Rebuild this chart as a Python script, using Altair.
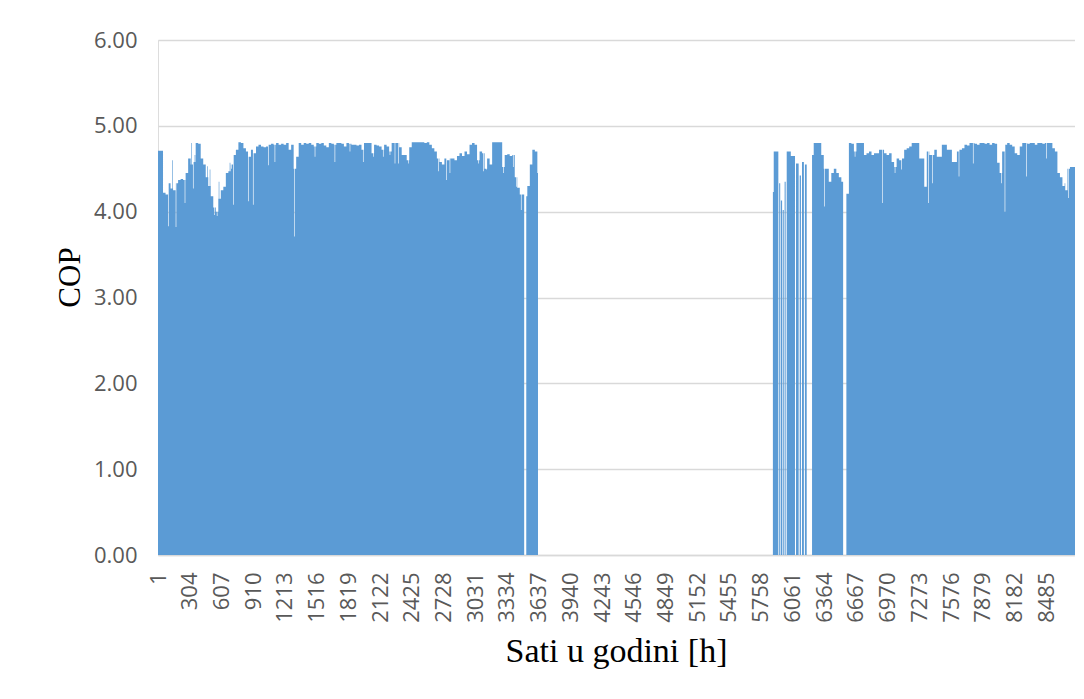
import altair as alt
import numpy as np
import pandas as pd

# Daily envelope of hourly COP (365 days, 0 = heat pump off)
day_cop = [
    4.71, 4.71, 4.22, 4.20, 4.33, 4.27, 4.25, 4.33, 4.37, 4.38,
    4.37, 4.45, 4.62, 4.55, 4.58, 4.80, 4.79, 4.62, 4.55, 4.40,
    4.30, 4.18, 4.05, 4.00, 4.15, 4.25, 4.29, 4.45, 4.47, 4.55,
    4.66, 4.72, 4.81, 4.80, 4.74, 4.70, 4.64, 4.72, 4.68, 4.76,
    4.78, 4.76, 4.75, 4.76, 4.78, 4.79, 4.78, 4.80, 4.78, 4.79,
    4.78, 4.80, 4.72, 4.78, 4.50, 4.64, 4.80, 4.78, 4.80, 4.79,
    4.80, 4.78, 4.76, 4.80, 4.79, 4.80, 4.77, 4.75, 4.80, 4.79,
    4.78, 4.80, 4.80, 4.79, 4.76, 4.80, 4.79, 4.78, 4.78, 4.77,
    4.78, 4.72, 4.80, 4.80, 4.80, 4.68, 4.78, 4.77, 4.76, 4.72,
    4.78, 4.76, 4.70, 4.80, 4.80, 4.80, 4.75, 4.66, 4.66, 4.60,
    4.75, 4.81, 4.81, 4.81, 4.81, 4.81, 4.80, 4.81, 4.78, 4.74,
    4.70, 4.62, 4.58, 4.55, 4.62, 4.60, 4.62, 4.62, 4.60, 4.65,
    4.68, 4.65, 4.70, 4.67, 4.78, 4.80, 4.78, 4.60, 4.70, 4.68,
    4.50, 4.62, 4.55, 4.81, 4.81, 4.81, 4.81, 4.52, 4.66, 4.67,
    4.65, 4.66, 4.40, 4.28, 4.20, 4.20, 4.18, 4.30, 4.55, 4.72,
    4.70, 4.45, 0, 0, 0, 0, 0, 0, 0, 0,
    0, 0, 0, 0, 0, 0, 0, 0, 0, 0,
    0, 0, 0, 0, 0, 0, 0, 0, 0, 0,
    0, 0, 0, 0, 0, 0, 0, 0, 0, 0,
    0, 0, 0, 0, 0, 0, 0, 0, 0, 0,
    0, 0, 0, 0, 0, 0, 0, 0, 0, 0,
    0, 0, 0, 0, 0, 0, 0, 0, 0, 0,
    0, 0, 0, 0, 0, 0, 0, 0, 0, 0,
    0, 0, 0, 0, 0, 0, 0, 0, 0, 0,
    0, 0, 0, 0, 0, 0, 0, 0, 0, 0,
    0, 0, 0, 0, 0, 0, 0, 0, 0, 0,
    4.66, 4.80, 4.80, 4.80, 4.66, 4.50, 4.50, 4.35, 4.45, 4.50,
    4.45, 4.40, 4.35, 0, 4.21, 4.80, 4.79, 4.70, 4.80, 4.80,
    4.80, 4.66, 4.68, 4.70, 4.66, 4.68, 4.68, 4.72, 4.72, 4.68,
    4.66, 4.68, 4.58, 4.52, 4.62, 4.60, 4.62, 4.72, 4.74, 4.76,
    4.80, 4.80, 4.80, 4.62, 4.62, 4.29, 4.70, 4.66, 4.66, 4.72,
    4.64, 4.64, 4.78, 4.78, 4.72, 4.72, 4.58, 4.58, 4.70, 4.72,
    4.74, 4.78, 4.77, 4.80, 4.80, 4.79, 4.78, 4.80, 4.80, 4.79,
    4.80, 4.78, 4.80, 4.79, 4.57, 4.45, 4.70, 4.78, 4.80, 4.78,
    4.76, 4.68, 4.66, 4.76, 4.80, 4.80, 4.79, 4.80, 4.80, 4.78,
    4.80, 4.80, 4.79, 4.80, 4.80, 4.80, 4.74, 4.70, 4.45, 4.40,
    4.30, 4.25, 4.50, 4.52, 4.52,
]

# Hour ranges read separately (on/off cycling, gaps): start hour, end hour, COP
seg_start = [3498, 3630, 5874, 5882, 5926, 5934, 5944, 5950, 5962, 5968, 5978, 5986, 5996,
             6006, 6045, 6085, 6095, 6120, 6130, 6142, 6152, 6170, 6180, 6197, 6545]
seg_end = [3518, 3648, 5882, 5926, 5934, 5944, 5950, 5962, 5968, 5978, 5986, 5996, 6006,
           6045, 6085, 6095, 6120, 6130, 6142, 6152, 6170, 6180, 6197, 6248, 6552]
seg_cop = [0, 0, 4.23, 4.70, 0, 4.33, 0, 4.13, 0, 4.02, 0, 4.35, 0,
           4.70, 4.65, 0, 4.56, 0, 4.42, 0, 4.58, 0, 4.55, 0, 0]

# Short dips / peaks (a few hours) away from the daily level
spike_hour = [99, 172, 258, 337, 540, 565, 720, 863, 910, 1054, 1117, 1302, 1500, 1690,
              1834, 1961, 2057, 2152, 2216, 2264, 2296, 2391, 2678, 2757, 2789, 3060,
              3108, 3140, 3299, 3394, 3426, 3470, 6366, 6659, 6923, 7041, 7104, 7359,
              7400, 7652, 7788, 8059, 8091, 8298, 8489, 8664, 8696,
              137, 322, 353, 474, 497, 583, 688, 704]
spike_cop = [3.83, 3.82, 4.10, 4.27, 3.96, 3.95, 4.08, 4.12, 4.08, 4.54, 4.58, 3.71, 4.64, 4.58,
             4.70, 4.58, 4.64, 4.64, 4.66, 4.56, 4.56, 4.56, 4.47, 4.37, 4.45, 4.56,
             4.47, 4.49, 4.45, 4.52, 4.29, 4.02, 4.06, 4.64, 4.10, 4.45, 4.49, 4.10,
             4.33, 4.41, 4.56, 4.33, 4.00, 4.41, 4.62, 4.33, 4.16,
             4.60, 4.80, 4.66, 4.53, 4.49, 4.35, 4.57, 4.50]

x_ticks = [1, 304, 607, 910, 1213, 1516, 1819, 2122, 2425, 2728, 3031, 3334, 3637,
           3940, 4243, 4546, 4849, 5152, 5455, 5758, 6061, 6364, 6667, 6970, 7273,
           7576, 7879, 8182, 8485]
y_ticks = [0, 1, 2, 3, 4, 5, 6]

# Build hourly series from the read values
hourly = np.repeat(np.array(day_cop, dtype=float), 24)
for s, e, v in zip(seg_start, seg_end, seg_cop):
    hourly[s:e] = v
for h, v in zip(spike_hour, spike_cop):
    hourly[h - 3:h + 3] = v

# run-length encode for a step outline (category k spans k-0.5 .. k+0.5)
change = np.flatnonzero(np.diff(hourly)) + 1
starts = np.concatenate([[0], change])
xs = list(starts + 0.5) + [len(hourly) + 0.5]
ys = list(hourly[starts]) + [hourly[-1]]
df = pd.DataFrame({"hour": xs, "cop": ys})

label_font = "Open Sans"
title_font = "Liberation Serif"

chart = alt.Chart(df).mark_area(
    interpolate="step-after", color="#5B9BD5", line=False
).encode(
    x=alt.X("hour:Q",
            scale=alt.Scale(domain=[0.5, 8760.5], nice=False, zero=False),
            axis=alt.Axis(values=x_ticks, format="d", labelAngle=-90, grid=False,
                          ticks=False, labelPadding=17, labelFontSize=22,
                          labelFont=label_font, labelColor="#595959",
                          domainColor="#D9D9D9", domainWidth=1.5,
                          labelOverlap=False, labelFlush=False,
                          title="Sati u godini [h]", titleFont=title_font,
                          titleFontSize=34, titleFontWeight="normal",
                          titleColor="#000000", titleBaseline="alphabetic",
                          titleY=106, titleX=458)),
    y=alt.Y("cop:Q",
            scale=alt.Scale(domain=[0, 6], nice=False),
            axis=alt.Axis(values=y_ticks, format=".2f", grid=True,
                          gridColor="#D9D9D9", gridWidth=1.5, domain=False,
                          ticks=False, labelPadding=21, labelFontSize=22,
                          labelFont=label_font, labelColor="#595959",
                          title="COP", titleFont=title_font, titleFontSize=31,
                          titleFontWeight="normal", titleColor="#000000",
                          titleBaseline="alphabetic", titleAngle=-90,
                          titleX=-79, titleY=237, titleAlign="center")),
).properties(
    width=917,
    height=515,
    autosize=alt.AutoSizeParams(type="none"),
    padding={"left": 150, "top": 32, "right": 0, "bottom": 120},
).configure_view(stroke=None).configure(background="white")

chart.save("out.html", embed_options={"renderer": "svg", "actions": False})
